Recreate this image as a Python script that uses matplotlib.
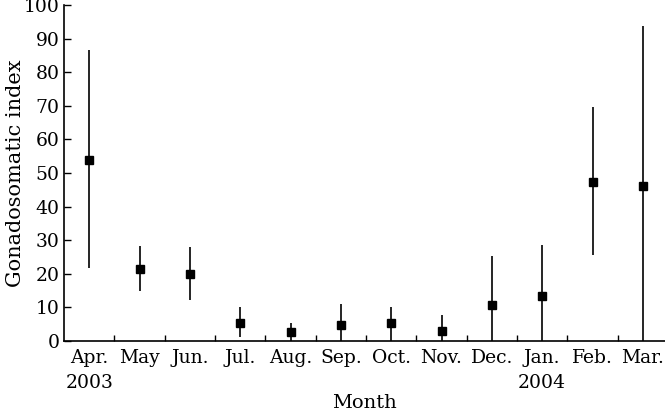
import numpy as np
import matplotlib.pyplot as plt

months = ['Apr.\n2003', 'May', 'Jun.', 'Jul.', 'Aug.', 'Sep.', 'Oct.', 'Nov.',
          'Dec.', 'Jan.\n2004', 'Feb.', 'Mar.']
gsi_mean = [54.0, 21.3, 20.0, 5.3, 2.6, 4.8, 5.3, 3.1, 10.8, 13.5, 47.4, 46.1]
gsi_low = [21.6, 15.0, 12.2, 1.3, 0.0, 0.0, 0.0, 0.0, 0.0, 0.0, 25.6, 0.0]
gsi_high = [86.6, 28.4, 28.1, 10.0, 5.4, 11.0, 10.0, 7.7, 25.3, 28.6, 69.5, 93.8]

plt.rcParams['font.family'] = 'DejaVu Serif'
fs = 13.5

x = np.arange(len(months))
mean = np.array(gsi_mean)
yerr = [mean - np.array(gsi_low), np.array(gsi_high) - mean]

fig = plt.figure(figsize=(6.65, 4.17), dpi=100)
ax = fig.add_axes([64 / 665, 76 / 417, 1 - 64 / 665, 336 / 417])

ax.errorbar(x, mean, yerr=yerr, fmt='s', color='black', ms=6, elinewidth=1.2,
            capsize=0, clip_on=False)

ax.set_xlim(-0.5, 11.44)
ax.set_ylim(0, 100)
ax.set_yticks(np.arange(0, 101, 10))
ax.set_xticks(x)
ax.set_xticklabels(months, linespacing=1.5, va='top')
ax.set_xticks(x[:-1] + 0.5, minor=True)
ax.tick_params(axis='x', which='major', length=0, pad=6, labelsize=fs)
ax.tick_params(axis='x', which='minor', direction='in', length=4, width=1)
ax.tick_params(axis='y', direction='in', length=5, width=1, pad=3, labelsize=fs)

for s in ['top', 'right']:
    ax.spines[s].set_visible(False)
for s in ['left', 'bottom']:
    ax.spines[s].set_linewidth(1.2)

ax.set_xlabel('Month', fontsize=14, labelpad=1)
ax.set_ylabel('Gonadosomatic index', fontsize=15, labelpad=-1)

fig.savefig('out.png', dpi=100)
